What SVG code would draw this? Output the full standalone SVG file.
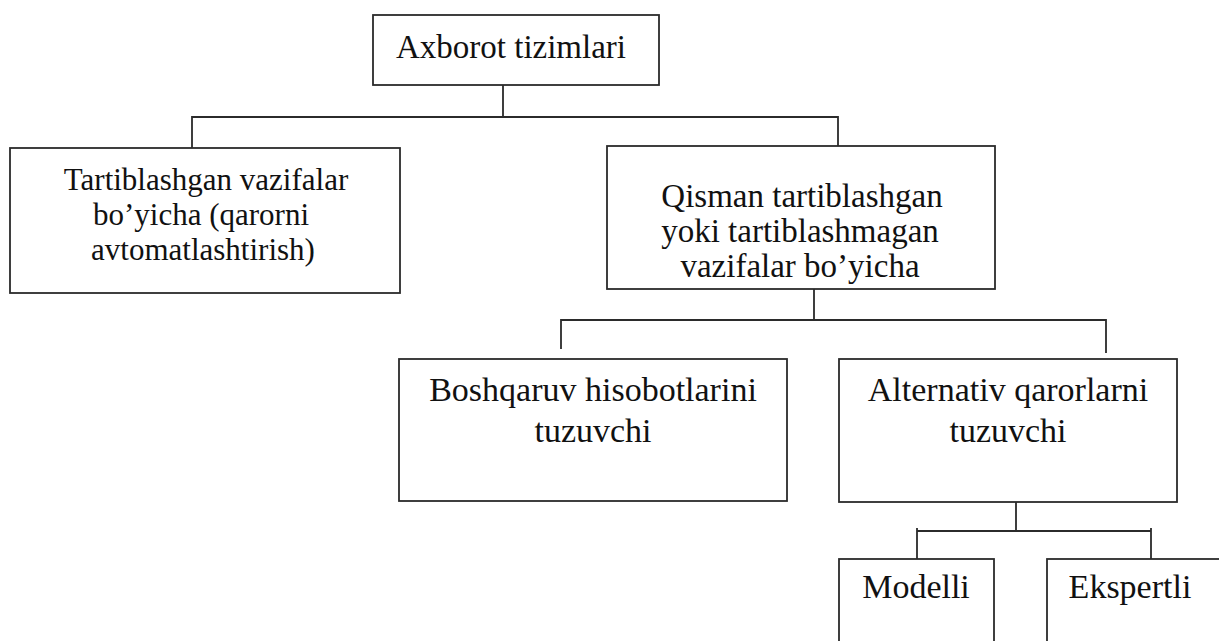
<svg xmlns="http://www.w3.org/2000/svg" width="1219" height="641" viewBox="0 0 1219 641">
  <style>
    .box { fill: #ffffff; stroke: #2b2b2b; stroke-width: 1.8; }
    .link { fill: none; stroke: #2b2b2b; stroke-width: 1.8; }
    .lbl { fill: #111111; text-anchor: middle; }
  </style>
  <rect width="1219" height="641" fill="#ffffff"/>

  <!-- tree connectors -->
  <g id="connectors">
    <path class="link" d="M503 85 V117 M192 148 V117 H838 V146"/>
    <path class="link" d="M814 289 V321 M561 349 V320 H1106 V353"/>
    <path class="link" d="M1016 502 V531 M917 559 V528 M917 531 H1151 M1151 528 V559"/>
  </g>

  <g id="node-axborot">
    <rect class="box" x="373" y="15" width="286" height="70"/>
    <text class="lbl" font-family="Liberation Serif" font-size="33" x="511" y="58">Axborot tizimlari</text>
  </g>

  <g id="node-tartiblashgan">
    <rect class="box" x="10" y="148" width="390" height="145"/>
    <text class="lbl" font-family="Liberation Serif" font-size="31" x="206" y="190">Tartiblashgan vazifalar</text>
    <text class="lbl" font-family="Liberation Serif" font-size="31" x="201" y="225">bo’yicha (qarorni</text>
    <text class="lbl" font-family="Liberation Serif" font-size="31" x="203" y="260">avtomatlashtirish)</text>
  </g>

  <g id="node-qisman">
    <rect class="box" x="607" y="146" width="388" height="143"/>
    <text class="lbl" font-family="Liberation Serif" font-size="33" x="802" y="207">Qisman tartiblashgan</text>
    <text class="lbl" font-family="Liberation Serif" font-size="33" x="800" y="242">yoki tartiblashmagan</text>
    <text class="lbl" font-family="Liberation Serif" font-size="33" x="800" y="277">vazifalar bo’yicha</text>
  </g>

  <g id="node-boshqaruv">
    <rect class="box" x="399" y="359" width="388" height="142"/>
    <text class="lbl" font-family="Liberation Serif" font-size="34" x="593" y="401">Boshqaruv hisobotlarini</text>
    <text class="lbl" font-family="Liberation Serif" font-size="34" x="593" y="442">tuzuvchi</text>
  </g>

  <g id="node-alternativ">
    <rect class="box" x="839" y="359" width="338" height="143"/>
    <text class="lbl" font-family="Liberation Serif" font-size="34" x="1008" y="401">Alternativ qarorlarni</text>
    <text class="lbl" font-family="Liberation Serif" font-size="34" x="1008" y="442">tuzuvchi</text>
  </g>

  <g id="node-modelli">
    <rect class="box" x="839" y="559" width="155" height="100"/>
    <text class="lbl" font-family="Liberation Serif" font-size="34" x="916" y="598">Modelli</text>
  </g>

  <g id="node-ekspertli">
    <rect class="box" x="1047" y="559" width="190" height="100"/>
    <text class="lbl" font-family="Liberation Serif" font-size="34" x="1130" y="598">Ekspertli</text>
  </g>
</svg>
